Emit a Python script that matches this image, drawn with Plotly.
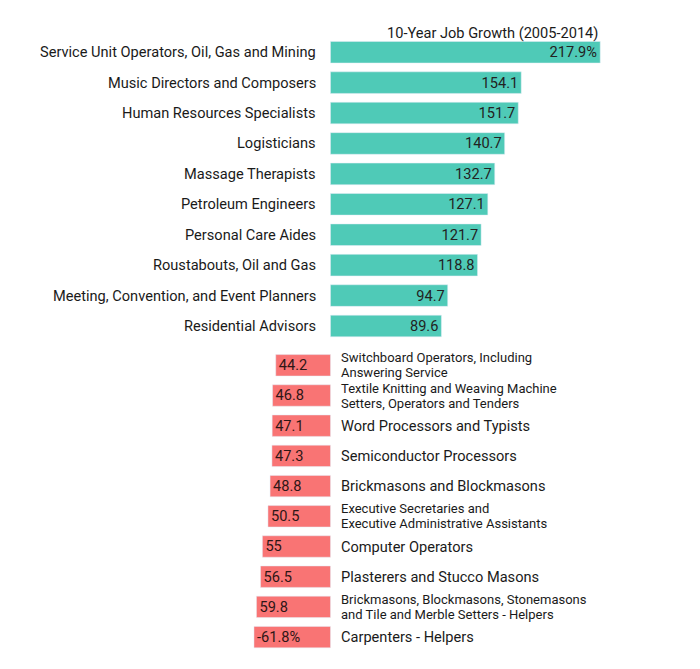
import plotly.graph_objects as go
from plotly.subplots import make_subplots

pos_labels = [
    "Service Unit Operators, Oil, Gas and Mining",
    "Music Directors and Composers",
    "Human Resources Specialists",
    "Logisticians",
    "Massage Therapists",
    "Petroleum Engineers",
    "Personal Care Aides",
    "Roustabouts, Oil and Gas",
    "Meeting, Convention, and Event Planners",
    "Residential Advisors",
]
pos_values = [217.9, 154.1, 151.7, 140.7, 132.7, 127.1, 121.7, 118.8, 94.7, 89.6]
pos_text = ["217.9%", "154.1", "151.7", "140.7", "132.7", "127.1", "121.7", "118.8", "94.7", "89.6"]

neg_labels = [
    "Switchboard Operators, Including<br>Answering Service",
    "Textile Knitting and Weaving Machine<br>Setters, Operators and Tenders",
    "Word Processors and Typists",
    "Semiconductor Processors",
    "Brickmasons and Blockmasons",
    "Executive Secretaries and<br>Executive Administrative Assistants",
    "Computer Operators",
    "Plasterers and Stucco Masons",
    "Brickmasons, Blockmasons, Stonemasons<br>and Tile and Merble Setters - Helpers",
    "Carpenters - Helpers",
]
neg_values = [-44.2, -46.8, -47.1, -47.3, -48.8, -50.5, -55.0, -56.5, -59.8, -61.8]
neg_text = ["44.2", "46.8", "47.1", "47.3", "48.8", "50.5", "55", "56.5", "59.8", "-61.8%"]

title_text = "10-Year Job Growth (2005-2014)"

TEAL = "#4fcab7"
RED = "#f97474"
FONT = "Roboto"
W, H = 692, 661

fig = make_subplots(rows=2, cols=1, shared_xaxes=True, vertical_spacing=0.01)

fig.add_trace(go.Bar(
    y=pos_labels, x=pos_values, orientation="h", marker_color=TEAL,
    text=pos_text, textposition="inside", insidetextanchor="end", textangle=0,
    constraintext="none",
    textfont=dict(family=FONT, size=14.6, color="#222"), hoverinfo="skip",
), row=1, col=1)
fig.add_trace(go.Bar(
    y=neg_labels, x=neg_values, orientation="h", marker_color=RED,
    text=neg_text, textposition="inside", insidetextanchor="end", textangle=0,
    constraintext="none",
    textfont=dict(family=FONT, size=14.6, color="#2e1616"), hoverinfo="skip",
), row=2, col=1)

annotations = []
for lab in pos_labels:
    annotations.append(dict(x=0, y=lab, xref="x", yref="y", text=lab, showarrow=False,
                            xanchor="right", xshift=-12,
                            font=dict(family=FONT, size=14.6, color="#1a1a1a")))
for lab in neg_labels:
    lines = lab.split("<br>")
    if len(lines) == 1:
        annotations.append(dict(x=0, y=lab, xref="x2", yref="y2", text=lab, showarrow=False,
                                xanchor="left", xshift=9,
                                font=dict(family=FONT, size=14.6, color="#1a1a1a")))
    else:
        for i, ln in enumerate(lines):
            annotations.append(dict(x=0, y=lab, xref="x2", yref="y2", text=ln, showarrow=False,
                                    xanchor="left", xshift=9, yshift=7.5 - 15 * i,
                                    font=dict(family=FONT, size=13, color="#1a1a1a")))
annotations.append(dict(x=pos_values[0], y=1 - 25 / H, xref="x", yref="paper", text=title_text,
                        showarrow=False, xanchor="right", yanchor="middle",
                        font=dict(family=FONT, size=14.6, color="#1a1a1a")))

xr = [-260.5, 298.5]
fig.update_layout(
    width=W, height=H, margin=dict(l=0, r=0, t=0, b=0),
    paper_bgcolor="white", plot_bgcolor="white", showlegend=False,
    bargap=0.29, annotations=annotations,
    font=dict(family=FONT),
    xaxis=dict(range=xr, visible=False),
    xaxis2=dict(range=xr, visible=False),
    yaxis=dict(domain=[1 - 333.2 / H, 1 - 29 / H], autorange="reversed", visible=False),
    yaxis2=dict(domain=[1 - 644.2 / H, 1 - 340.3 / H], autorange="reversed", visible=False),
)

fig.write_html("out.html")
